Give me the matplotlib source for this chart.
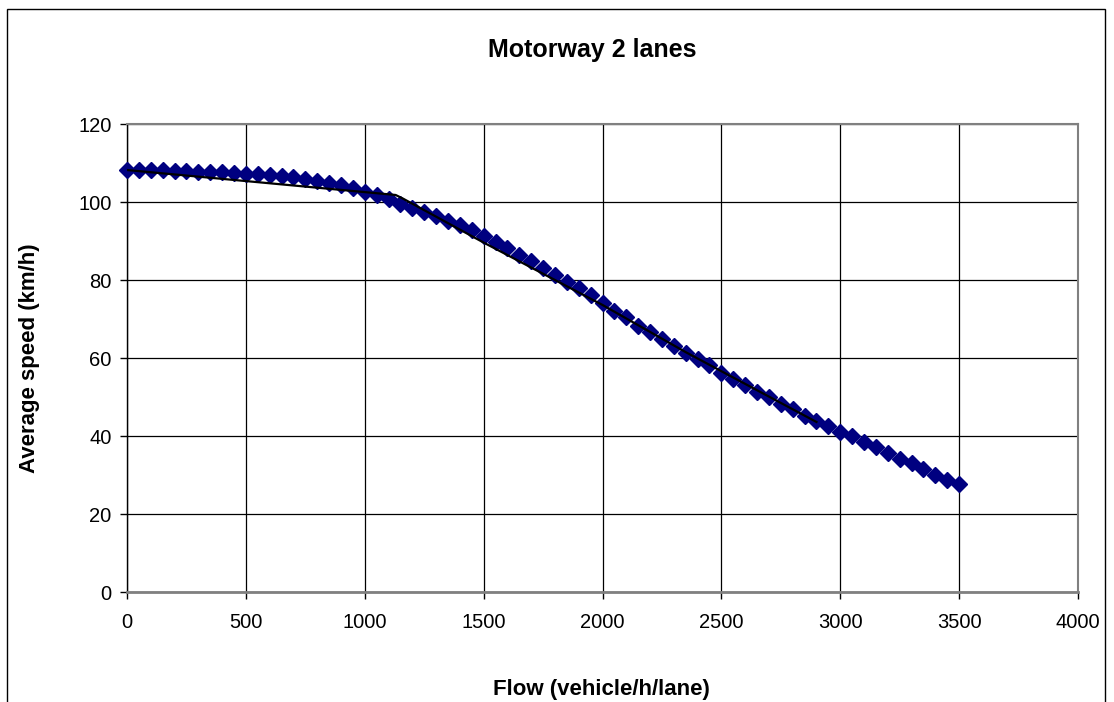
import matplotlib
matplotlib.use("Agg")
import matplotlib.pyplot as plt
from matplotlib.patches import Rectangle

plt.rcParams['font.family'] = ['Liberation Sans', 'DejaVu Sans']

# flow (vehicle/h/lane) and measured average speed (km/h)
flow = [0, 50, 100, 150, 200, 250, 300, 350, 400, 450,
        500, 550, 600, 650, 700, 750, 800, 850, 900, 950,
        1000, 1050, 1100, 1150, 1200, 1250, 1300, 1350, 1400, 1450,
        1500, 1550, 1600, 1650, 1700, 1750, 1800, 1850, 1900, 1950,
        2000, 2050, 2100, 2150, 2200, 2250, 2300, 2350, 2400, 2450,
        2500, 2550, 2600, 2650, 2700, 2750, 2800, 2850, 2900, 2950,
        3000, 3050, 3100, 3150, 3200, 3250, 3300, 3350, 3400, 3450,
        3500]
speed = [108.2, 108.2, 108.2, 108.1, 108.0, 107.9, 107.8, 107.7, 107.6, 107.5,
         107.3, 107.1, 106.9, 106.7, 106.4, 106.0, 105.5, 104.9, 104.3, 103.5,
         102.6, 101.7, 100.7, 99.6, 98.5, 97.5, 96.5, 95.2, 94.0, 92.7,
         91.2, 89.7, 88.1, 86.5, 85.0, 83.1, 81.3, 79.4, 77.9, 76.2,
         74.2, 72.1, 70.4, 68.3, 66.7, 64.8, 63.1, 61.2, 59.7, 58.1,
         56.2, 54.6, 53.0, 51.4, 49.9, 48.3, 46.8, 45.2, 43.8, 42.6,
         41.1, 40.0, 38.5, 37.1, 35.6, 34.1, 33.0, 31.5, 30.0, 28.8,
         27.7]

# fitted speed-flow curve (black line)
fit_flow = [0, 1130, 1160, 1500, 2000, 2350, 2900]
fit_speed = [108.2, 101.8, 100.9, 89.6, 73.6, 61.5, 43.6]

W, H = 1114, 702
fig = plt.figure(figsize=(W / 100, H / 100), dpi=100)
ax = fig.add_axes([127 / W, 1 - 592 / H, (1078 - 127) / W, (592 - 124) / H])

# outer chart border (bottom edge is cut off in the original)
fig.patches.append(Rectangle((7 / W, -0.05), (1105 - 7) / W, (H - 9) / H + 0.05,
                             transform=fig.transFigure, fill=False,
                             edgecolor='black', linewidth=1))

ax.plot(flow, speed, linestyle='none', marker='D', markersize=8.5,
        color='#000080', markeredgecolor='#000080', zorder=3, clip_on=False)
ax.plot(fit_flow, fit_speed, color='black', linewidth=1.6, zorder=4)

ax.set_xlim(0, 4000)
ax.set_ylim(0, 120)
ax.set_xticks(range(0, 4001, 500))
ax.set_yticks(range(0, 121, 20))
ax.grid(True, color='black', linewidth=0.9)
ax.set_axisbelow(True)

for side in ['top', 'right']:
    ax.spines[side].set_color('#808080')
    ax.spines[side].set_linewidth(1.5)
ax.spines['bottom'].set_color('#808080')
ax.spines['bottom'].set_linewidth(2)
ax.spines['left'].set_color('black')
ax.spines['left'].set_linewidth(1)

ax.tick_params(axis='both', direction='out', length=5, width=1,
               labelsize=14.5, colors='black', pad=6)
ax.tick_params(axis='x', pad=10)

fig.text(592 / W, 1 - 50 / H, 'Motorway 2 lanes', ha='center', va='center',
         fontsize=18, fontweight='bold')
fig.text(601 / W, 1 - 690 / H, 'Flow (vehicle/h/lane)', ha='center', va='center',
         fontsize=16, fontweight='bold')
fig.text(30 / W, 1 - 358 / H, 'Average speed (km/h)', ha='center', va='center',
         rotation=90, fontsize=16, fontweight='bold')

fig.savefig('out.png', dpi=100)
